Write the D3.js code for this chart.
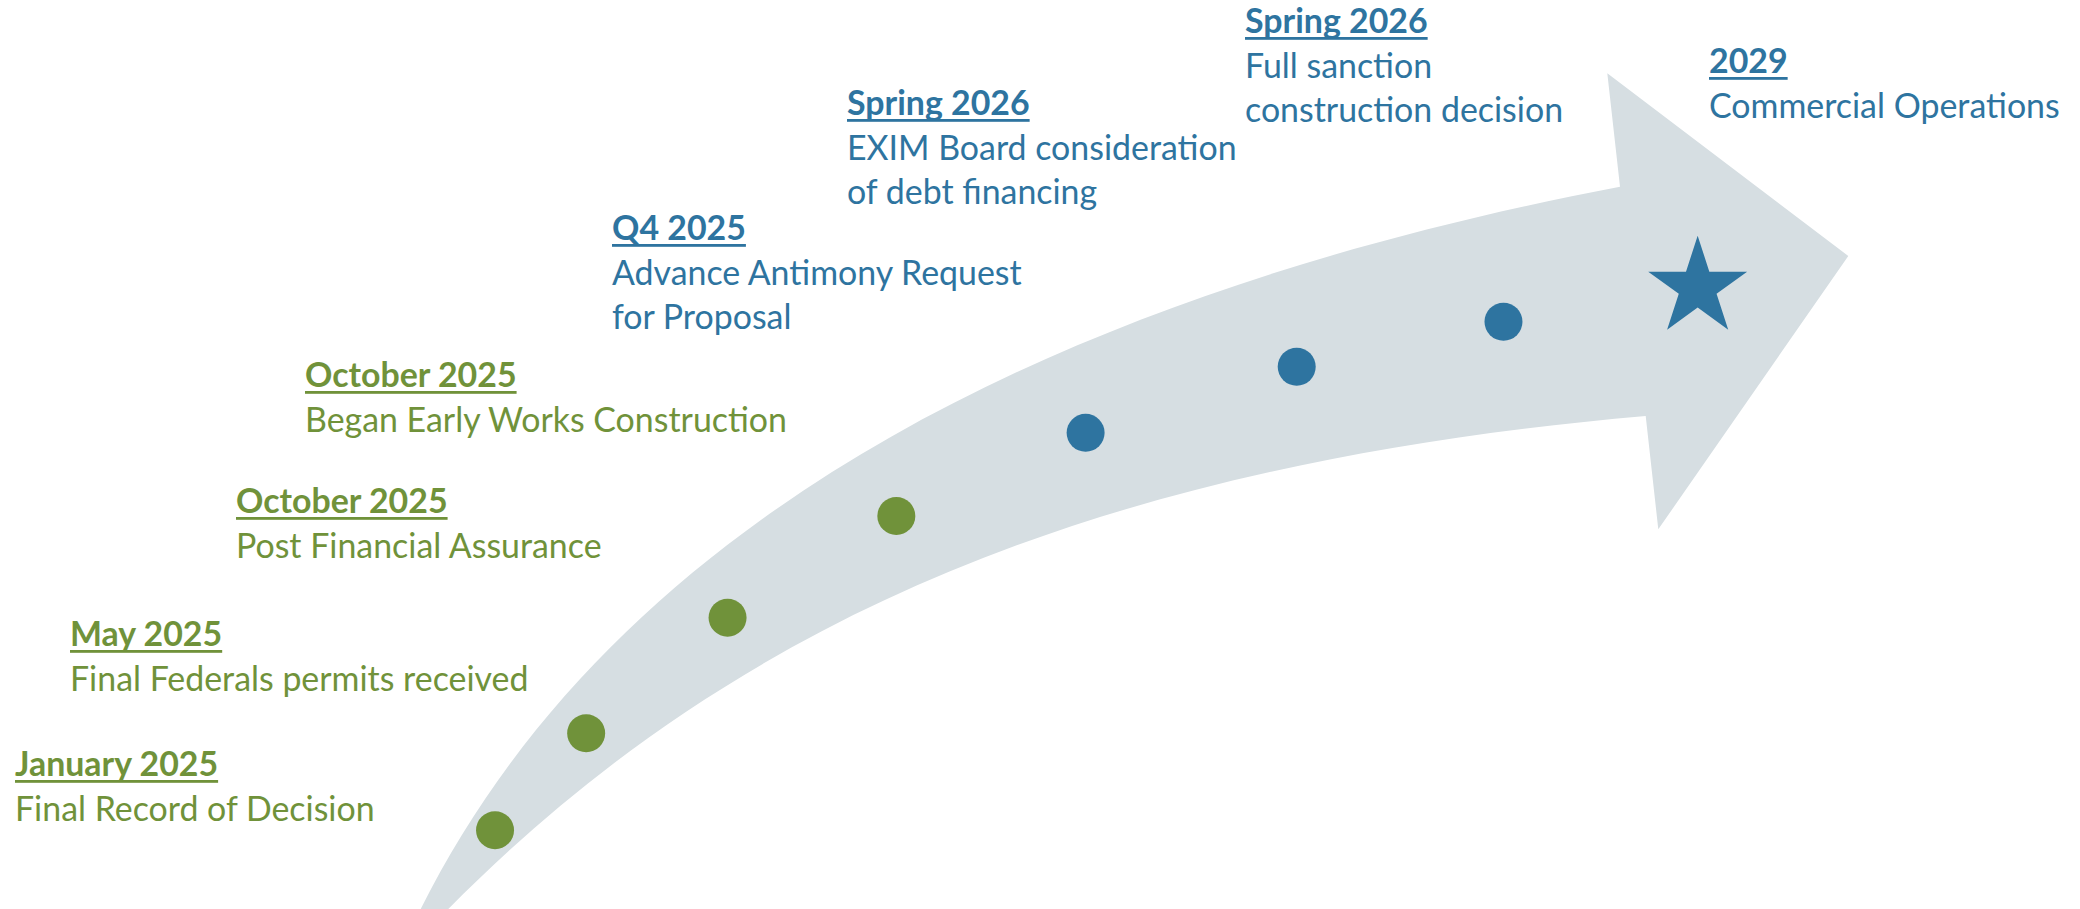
<!DOCTYPE html>
<html><head><meta charset="utf-8">
<script src="https://cdn.jsdelivr.net/npm/d3@7"></script>
<style>html,body{margin:0;padding:0;background:#fff;overflow:hidden}</style>
</head><body><svg id="chart" width="2080" height="909"></svg>
<script>
// ---------- data ----------
const milestoneDates = ["January 2025","May 2025","October 2025","October 2025","Q4 2025","Spring 2026","Spring 2026","2029"];
const milestoneDescriptions = [
  ["Final Record of Decision"],
  ["Final Federals permits received"],
  ["Post Financial Assurance"],
  ["Began Early Works Construction"],
  ["Advance Antimony Request","for Proposal"],
  ["EXIM Board consideration","of debt financing"],
  ["Full sanction","construction decision"],
  ["Commercial Operations"]
];
const milestoneStatus = ["complete","complete","complete","complete","upcoming","upcoming","upcoming","target"];
// position of each milestone along the arrow, % of its length
const positionAlongArrow = [6.2,14.5,25.9,38.2,51.1,64.9,78.1,90.4];

// ---------- layout / style ----------
const W = 2080, H = 909;
const FONT = "Lato, 'Open Sans', sans-serif";
const FONT_SIZE = 33.9;
const LINE = 44.5;
const statusColor = {complete:"#70923A", upcoming:"#2E74A0", target:"#2E74A0"};
const bandColor = "#D6DEE2";
const labelAnchors = [[15,776],[70,646],[236,513],[305,387],[612,240],[847,115],[1245,33],[1709,73]];
const upperEdge = [[420.7,909],[621.9,506.7],[1079.4,289.85],[1620,186.7]];
const lowerEdge = [[448.3,909],[729.5,624.6],[1087.9,464.7],[1645.7,416]];
const head = {topBarb:[1607.3,73.3], tip:[1848.3,256], bottomBarb:[1658.3,529.3]};
const tailEnds = [[393.9,962.6],[406,951.7]];

const svg = d3.select("#chart");

// arrow band
const p = d3.path();
p.moveTo(...tailEnds[0]);
p.lineTo(...upperEdge[0]);
p.bezierCurveTo(...upperEdge[1], ...upperEdge[2], ...upperEdge[3]);
p.lineTo(...head.topBarb);
p.lineTo(...head.tip);
p.lineTo(...head.bottomBarb);
p.lineTo(...lowerEdge[3]);
p.bezierCurveTo(...lowerEdge[2], ...lowerEdge[1], ...lowerEdge[0]);
p.lineTo(...tailEnds[1]);
p.closePath();
svg.append("path").attr("d", p.toString()).attr("fill", bandColor);

// spine = average of both edges, continued to the tip
const mid = upperEdge.map((u,i)=>[(u[0]+lowerEdge[i][0])/2,(u[1]+lowerEdge[i][1])/2]);
const sp = d3.path();
sp.moveTo(...mid[0]);
sp.bezierCurveTo(...mid[1], ...mid[2], ...mid[3]);
sp.lineTo(...head.tip);
const spine = svg.append("path").attr("d", sp.toString()).attr("fill","none").attr("stroke","none");
const spineNode = spine.node();
const along = d3.scaleLinear().domain([0,100]).range([0, spineNode.getTotalLength()]);

const milestones = milestoneDates.map((d,i)=>({date:d, desc:milestoneDescriptions[i], status:milestoneStatus[i], pos:positionAlongArrow[i], anchor:labelAnchors[i]}));
milestones.forEach(m => { const pt = spineNode.getPointAtLength(along(m.pos)); m.x = pt.x; m.y = pt.y; });

// markers
svg.selectAll("circle.dot").data(milestones.filter(m=>m.status!=="target")).join("circle")
  .attr("class","dot").attr("cx",d=>d.x).attr("cy",d=>d.y).attr("r",19)
  .attr("fill",d=>statusColor[d.status]);
svg.selectAll("path.star").data(milestones.filter(m=>m.status==="target")).join("path")
  .attr("class","star")
  .attr("d", d3.symbol(d3.symbolStar).size(3035))
  .attr("transform", d=>`translate(${d.x},${d.y})`)
  .attr("fill", d=>statusColor[d.status]);

// labels
const lab = svg.selectAll("g.label").data(milestones).join("g").attr("class","label")
  .attr("transform", d=>`translate(${d.anchor[0]},${d.anchor[1]})`)
  .attr("fill", d=>statusColor[d.status])
  .style("font-family", FONT).style("font-size", FONT_SIZE+"px");
lab.append("text").attr("class","title").attr("x",0).attr("y",0)
  .style("font-weight","bold").text(d=>d.date);
lab.each(function(){
  const g = d3.select(this);
  const w = g.select("text.title").node().getComputedTextLength();
  g.append("rect").attr("x",0).attr("y",4).attr("width",w).attr("height",2.8);
});
lab.selectAll("text.desc").data(d=>d.desc).join("text").attr("class","desc")
  .attr("x",0).attr("y",(d,i)=>LINE+i*LINE).text(d=>d);
</script>
</body></html>
